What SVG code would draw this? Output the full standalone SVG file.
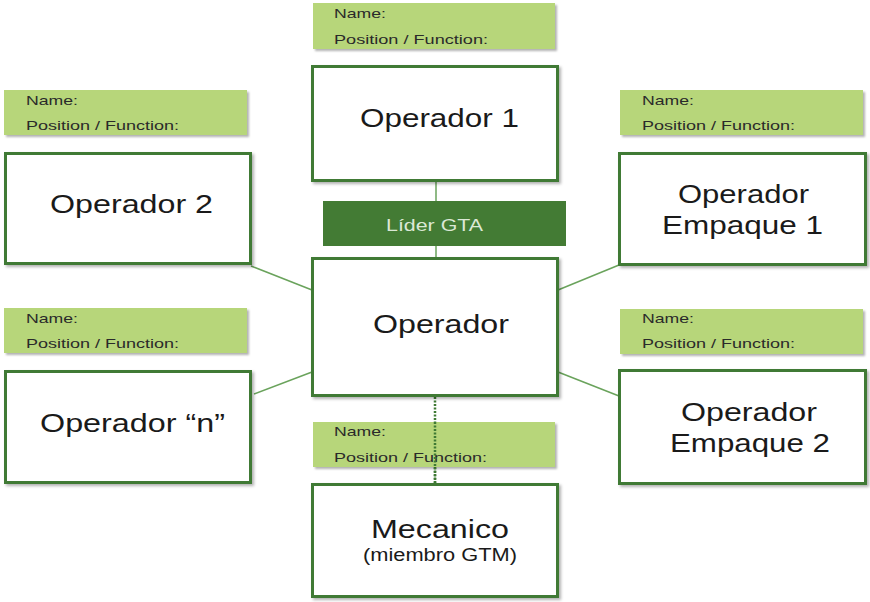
<svg xmlns="http://www.w3.org/2000/svg" width="870" height="602" viewBox="0 0 870 602">
<style>
.box{fill:#ffffff;stroke:#3f7a34;stroke-width:3;filter:url(#sh)}
.lab{fill:#b7d67a;filter:url(#sh2)}
.lt{font-family:"Liberation Sans",Arial,sans-serif;font-size:13px;fill:#2a2a2a}
.nt{font-family:"Liberation Sans",Arial,sans-serif;font-size:26px;fill:#1a1a1a}
.st{font-family:"Liberation Sans",Arial,sans-serif;font-size:18px;fill:#1a1a1a}
.conn{stroke:#6aa35c;stroke-width:1.5;fill:none}
</style>
<defs>
<filter id="sh" x="-5%" y="-5%" width="115%" height="120%"><feDropShadow dx="2" dy="2" stdDeviation="1.5" flood-color="#000" flood-opacity="0.3"/></filter>
<filter id="sh2" x="-5%" y="-10%" width="115%" height="130%"><feDropShadow dx="2" dy="2" stdDeviation="1.2" flood-color="#000" flood-opacity="0.3"/></filter>
</defs>
<rect width="870" height="602" fill="#ffffff"/>
<g id="connectors">
<line class="conn" x1="436" y1="182" x2="436" y2="201"/>
<line class="conn" x1="436" y1="246" x2="436" y2="258"/>
<line class="conn" x1="251" y1="266" x2="312" y2="290"/>
<line class="conn" x1="254" y1="394" x2="312" y2="372"/>
<line class="conn" x1="558" y1="290" x2="619" y2="265"/>
<line class="conn" x1="558" y1="372" x2="619" y2="396"/>
<line x1="435" y1="397" x2="435" y2="483" stroke="#3f7a34" stroke-width="2.5" stroke-dasharray="2 1.5"/>
</g>
<g id="label-top">
<rect class="lab" x="313" y="3" width="242" height="46"/>
<text class="lt" x="334" y="18" textLength="52" lengthAdjust="spacingAndGlyphs">Name:</text>
<text class="lt" x="334" y="44" textLength="154" lengthAdjust="spacingAndGlyphs">Position / Function:</text>
</g>
<g id="operador1">
<rect class="box" x="312.5" y="66.5" width="245" height="114"/>
<text class="nt" x="360" y="127" textLength="159" lengthAdjust="spacingAndGlyphs">Operador 1</text>
</g>
<g id="lider-gta">
<rect x="323" y="201" width="243" height="45" fill="#437b34"/>
<text x="386" y="231" font-family="Liberation Sans, Arial, sans-serif" font-size="17" fill="#dbe8d6" textLength="97" lengthAdjust="spacingAndGlyphs">Líder GTA</text>
</g>
<g id="operador">
<rect class="box" x="312.5" y="258.5" width="245" height="137"/>
<text class="nt" x="373" y="333" textLength="136" lengthAdjust="spacingAndGlyphs">Operador</text>
</g>
<g id="label-left-top">
<rect class="lab" x="4" y="90" width="243" height="45"/>
<text class="lt" x="26" y="105" textLength="52" lengthAdjust="spacingAndGlyphs">Name:</text>
<text class="lt" x="26" y="130" textLength="153" lengthAdjust="spacingAndGlyphs">Position / Function:</text>
</g>
<g id="operador2">
<rect class="box" x="5.5" y="153.5" width="245" height="110"/>
<text class="nt" x="50" y="213" textLength="163" lengthAdjust="spacingAndGlyphs">Operador 2</text>
</g>
<g id="label-left-bottom">
<rect class="lab" x="4" y="308" width="243" height="45"/>
<text class="lt" x="26" y="323" textLength="52" lengthAdjust="spacingAndGlyphs">Name:</text>
<text class="lt" x="26" y="348" textLength="153" lengthAdjust="spacingAndGlyphs">Position / Function:</text>
</g>
<g id="operador-n">
<rect class="box" x="5.5" y="371.5" width="245" height="111"/>
<text class="nt" x="40" y="432" textLength="185" lengthAdjust="spacingAndGlyphs">Operador “n”</text>
</g>
<g id="label-right-top">
<rect class="lab" x="620" y="90" width="243" height="45"/>
<text class="lt" x="642" y="105" textLength="52" lengthAdjust="spacingAndGlyphs">Name:</text>
<text class="lt" x="642" y="130" textLength="153" lengthAdjust="spacingAndGlyphs">Position / Function:</text>
</g>
<g id="operador-empaque1">
<rect class="box" x="619.5" y="153.5" width="246" height="111"/>
<text class="nt" x="678" y="203" textLength="131" lengthAdjust="spacingAndGlyphs">Operador</text>
<text class="nt" x="662" y="234" textLength="161" lengthAdjust="spacingAndGlyphs">Empaque 1</text>
</g>
<g id="label-right-bottom">
<rect class="lab" x="620" y="309" width="243" height="45"/>
<text class="lt" x="642" y="323" textLength="52" lengthAdjust="spacingAndGlyphs">Name:</text>
<text class="lt" x="642" y="348" textLength="153" lengthAdjust="spacingAndGlyphs">Position / Function:</text>
</g>
<g id="operador-empaque2">
<rect class="box" x="619.5" y="370.5" width="246" height="113"/>
<text class="nt" x="681" y="421" textLength="136" lengthAdjust="spacingAndGlyphs">Operador</text>
<text class="nt" x="670" y="452" textLength="160" lengthAdjust="spacingAndGlyphs">Empaque 2</text>
</g>
<g id="label-mecanico">
<rect class="lab" x="313" y="422" width="242" height="45"/>
<text class="lt" x="334" y="436" textLength="52" lengthAdjust="spacingAndGlyphs">Name:</text>
<text class="lt" x="334" y="462" textLength="153" lengthAdjust="spacingAndGlyphs">Position / Function:</text>
</g>
<line x1="435" y1="422" x2="435" y2="483" stroke="#3f7a34" stroke-width="2.5" stroke-dasharray="2 1.5"/>
<g id="mecanico">
<rect class="box" x="312.5" y="484.5" width="245" height="112"/>
<text class="nt" x="371" y="538" textLength="138" lengthAdjust="spacingAndGlyphs">Mecanico</text>
<text class="st" x="363" y="561" textLength="154" lengthAdjust="spacingAndGlyphs">(miembro GTM)</text>
</g>
</svg>
